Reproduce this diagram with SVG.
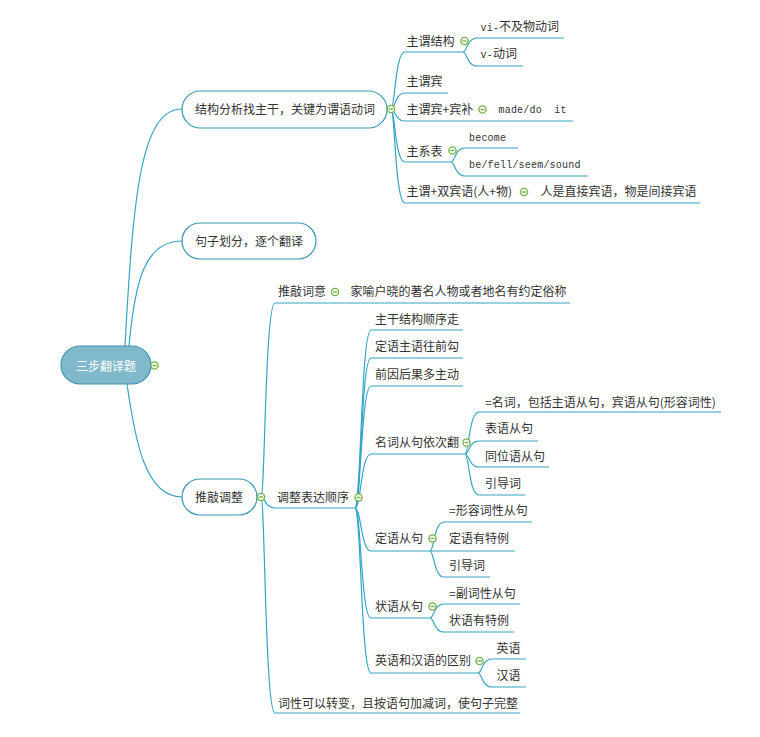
<svg xmlns="http://www.w3.org/2000/svg" xmlns:xlink="http://www.w3.org/1999/xlink" width="760" height="737" viewBox="0 0 760 737">
<style>
.t{font-family:"Noto Sans CJK SC","Liberation Sans",sans-serif;font-size:12px;fill:#333}
.m{font-family:"Liberation Mono","Noto Sans CJK SC",monospace;font-size:10px;fill:#333;letter-spacing:0.2px}
.c{font-family:"Noto Sans CJK SC","Liberation Sans",sans-serif;font-size:12px;letter-spacing:0}
.ln{fill:none;stroke:#35a4c4;stroke-width:1.2}
.pill{fill:#fff;stroke:#3a98b5;stroke-width:1.2}
.root{fill:#80b9cc;stroke:#3f95b1;stroke-width:1.2}
</style>
<defs>
<g id="col"><circle r="3.6" fill="#fff" stroke="#74b347" stroke-width="1.4"/><line x1="-2" y1="0" x2="2" y2="0" stroke="#74b347" stroke-width="1.4"/></g>
</defs>
<rect width="760" height="737" fill="#fff"/>
<g id="connectors">
<path class="ln" d="M125 346 C133 200 140 109 182 109"/>
<path class="ln" d="M129 346 C135 280 145 241 182 241"/>
<path class="ln" d="M127 384 C135 440 145 497 182 497"/>
<path class="ln" d="M391 109 C395 109 395 52 405 52 H463"/>
<path class="ln" d="M463 52 C467 52 467 38 477 38 H564"/>
<path class="ln" d="M463 52 C467 52 467 66 477 66 H523"/>
<path class="ln" d="M391 109 C395 109 395 93 405 93 H448"/>
<path class="ln" d="M391 109 C395 109 395 121 405 121 H573"/>
<path class="ln" d="M391 109 C395 109 395 162 405 162 H451"/>
<path class="ln" d="M451 162 C455 162 455 148 465 148 H518"/>
<path class="ln" d="M451 162 C455 162 455 176 465 176 H588"/>
<path class="ln" d="M391 109 C395 109 395 203 405 203 H700"/>
<path class="ln" d="M261 497 C265 497 265 303 275 303 H570"/>
<path class="ln" d="M261 497 C265 497 265 508 275 508 H355"/>
<path class="ln" d="M261 497 C265 497 265 713 275 713 H520"/>
<path class="ln" d="M355 508 C361 508 361 330 371 330 H463"/>
<path class="ln" d="M355 508 C361 508 361 358 371 358 H463"/>
<path class="ln" d="M355 508 C361 508 361 386 371 386 H463"/>
<path class="ln" d="M355 508 C361 508 361 454 371 454 H465"/>
<path class="ln" d="M355 508 C361 508 361 551 371 551 H430"/>
<path class="ln" d="M355 508 C361 508 361 618 371 618 H430"/>
<path class="ln" d="M355 508 C361 508 361 673 371 673 H478"/>
<path class="ln" d="M465 454 C469 454 469 412 479 412 H721"/>
<path class="ln" d="M465 454 C469 454 469 441 479 441 H538"/>
<path class="ln" d="M465 454 C469 454 469 467 479 467 H549"/>
<path class="ln" d="M465 454 C469 454 469 495 479 495 H525"/>
<path class="ln" d="M430 551 C434 551 434 522 444 522 H532"/>
<path class="ln" d="M430 551 H515"/>
<path class="ln" d="M430 551 C434 551 434 577 444 577 H490"/>
<path class="ln" d="M430 618 C434 618 434 604 444 604 H520"/>
<path class="ln" d="M430 618 C434 618 434 632 444 632 H514"/>
<path class="ln" d="M478 673 C482 673 482 659 492 659 H526"/>
<path class="ln" d="M478 673 C482 673 482 687 492 687 H526"/>
</g>
<g id="root">
<rect class="root" x="61" y="346" width="90" height="38" rx="19"/>
<text class="t" x="106" y="370.5" text-anchor="middle" style="fill:#fff">三步翻译题</text>
<use xlink:href="#col" x="154.5" y="365.5"/>
</g>
<g id="n1">
<rect class="pill" x="182" y="91" width="205" height="37" rx="18.5"/>
<text class="t" x="195" y="113.5">结构分析找主干，关键为谓语动词</text>
<use xlink:href="#col" x="391" y="109"/>
</g>
<g id="n2">
<rect class="pill" x="182" y="223" width="134" height="36" rx="18"/>
<text class="t" x="195" y="245.5">句子划分，逐个翻译</text>
</g>
<g id="n3">
<rect class="pill" x="182" y="479" width="75" height="36" rx="18"/>
<text class="t" x="195" y="501.5">推敲调整</text>
<use xlink:href="#col" x="261" y="497"/>
</g>
<g id="n1a"><text class="t" x="406.5" y="46">主谓结构</text><use xlink:href="#col" x="464.5" y="41"/></g>
<g id="n1a1"><text class="m" x="480.5" y="31">vi-<tspan class="c">不及物动词</tspan></text></g>
<g id="n1a2"><text class="m" x="480.5" y="58">v-<tspan class="c">动词</tspan></text></g>
<g id="n1b"><text class="t" x="406.5" y="85.5">主谓宾</text></g>
<g id="n1c"><text class="t" x="406.5" y="113.5">主谓宾+宾补</text><use xlink:href="#col" x="482.5" y="109.5"/></g>
<g id="n1c1"><text class="m" x="498.5" y="113" xml:space="preserve">made/do  it</text></g>
<g id="n1d"><text class="t" x="406.5" y="155.5">主系表</text><use xlink:href="#col" x="452.5" y="150.5"/></g>
<g id="n1d1"><text class="m" x="469" y="141">become</text></g>
<g id="n1d2"><text class="m" x="469" y="168">be/fell/seem/sound</text></g>
<g id="n1e"><text class="t" x="406.5" y="196">主谓+双宾语(人+物)</text><use xlink:href="#col" x="524" y="192"/></g>
<g id="n1e1"><text class="t" x="540.5" y="196">人是直接宾语，物是间接宾语</text></g>
<g id="n3a"><text class="t" x="278" y="296">推敲词意</text><use xlink:href="#col" x="335" y="292"/></g>
<g id="n3a1"><text class="t" x="350.5" y="296">家喻户晓的著名人物或者地名有约定俗称</text></g>
<g id="n3b"><text class="t" x="277" y="501.5">调整表达顺序</text><use xlink:href="#col" x="358.5" y="497.5"/></g>
<g id="n3c"><text class="t" x="278" y="707.5">词性可以转变，且按语句加减词，使句子完整</text></g>
<g id="b1"><text class="t" x="375" y="323.5">主干结构顺序走</text></g>
<g id="b2"><text class="t" x="375" y="351">定语主语往前勾</text></g>
<g id="b3"><text class="t" x="375" y="378.5">前因后果多主动</text></g>
<g id="b4"><text class="t" x="375" y="447">名词从句依次翻</text><use xlink:href="#col" x="466.5" y="442.5"/></g>
<g id="b4a"><text class="t" x="485" y="407">=名词，包括主语从句，宾语从句(形容词性)</text></g>
<g id="b4b"><text class="t" x="485" y="432.5">表语从句</text></g>
<g id="b4c"><text class="t" x="485" y="460.5">同位语从句</text></g>
<g id="b4d"><text class="t" x="485" y="487.5">引导词</text></g>
<g id="b5"><text class="t" x="375" y="542.5">定语从句</text><use xlink:href="#col" x="432.5" y="538.5"/></g>
<g id="b5a"><text class="t" x="449" y="514.5">=形容词性从句</text></g>
<g id="b5b"><text class="t" x="449" y="542.5">定语有特例</text></g>
<g id="b5c"><text class="t" x="449" y="570">引导词</text></g>
<g id="b6"><text class="t" x="375" y="611">状语从句</text><use xlink:href="#col" x="432.5" y="606.5"/></g>
<g id="b6a"><text class="t" x="449" y="597.5">=副词性从句</text></g>
<g id="b6b"><text class="t" x="449" y="624.5">状语有特例</text></g>
<g id="b7"><text class="t" x="375" y="665">英语和汉语的区别</text><use xlink:href="#col" x="479.5" y="661"/></g>
<g id="b7a"><text class="t" x="496.5" y="652.5">英语</text></g>
<g id="b7b"><text class="t" x="496.5" y="679.5">汉语</text></g>
</svg>
